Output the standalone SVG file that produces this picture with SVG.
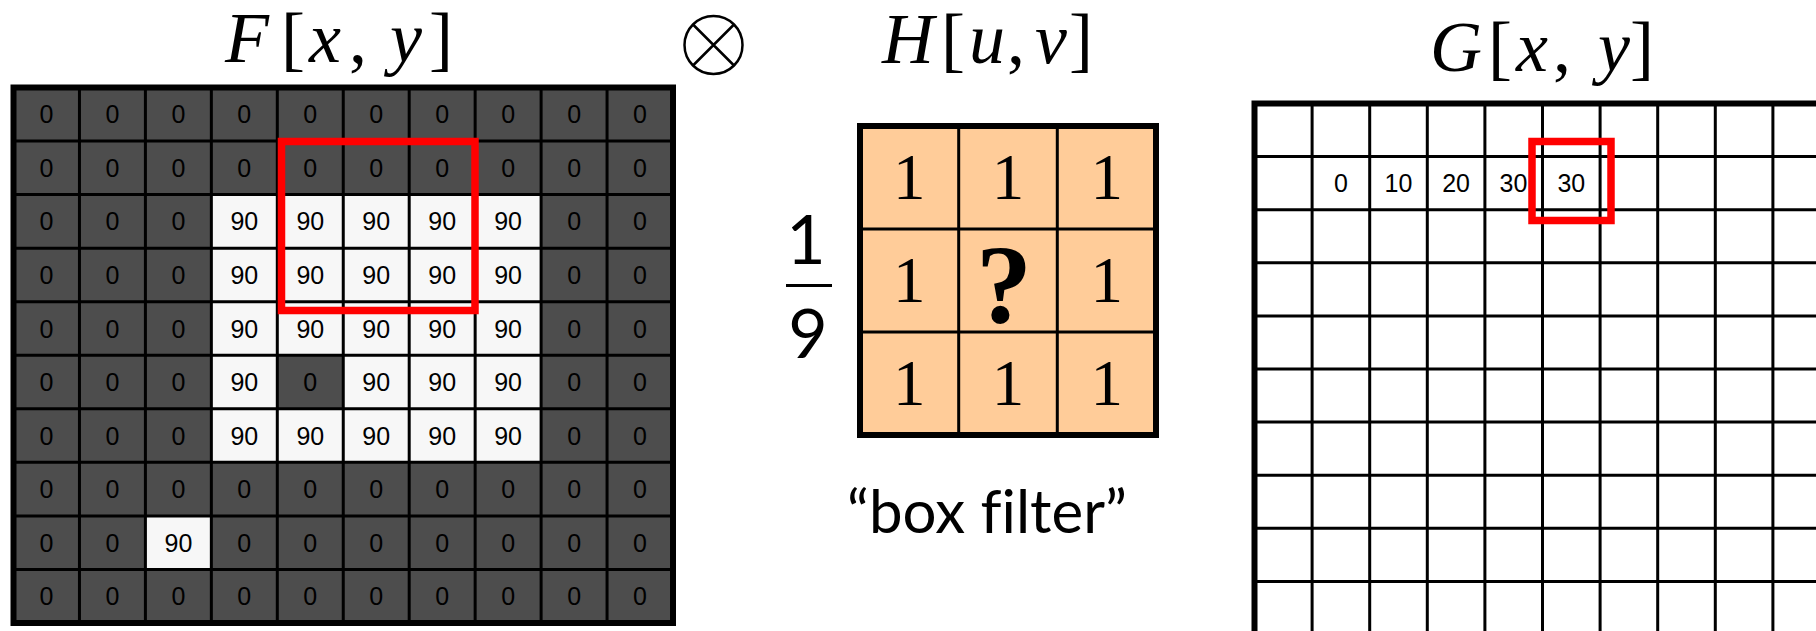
<svg xmlns="http://www.w3.org/2000/svg" width="1816" height="631" viewBox="0 0 1816 631">
<style>
.title{font-family:"Liberation Serif",serif;font-size:72px;fill:#000;text-anchor:middle}
.it{font-style:italic}
.cell{font-family:"Liberation Sans",Arial,sans-serif;font-size:25px;fill:#000;text-anchor:middle}
.grid{fill:none;stroke:#000;stroke-width:3}
.border{fill:none;stroke:#000;stroke-width:6}
.red{fill:none;stroke:#ff0000;stroke-width:7.5}
.one{font-family:"Liberation Serif",serif;font-size:65px;fill:#000;text-anchor:middle}
.sans{font-family:Lato,"Open Sans",sans-serif;fill:#000;text-anchor:middle;font-variant-ligatures:none}
</style>
<rect width="1816" height="631" fill="#fff"/>

<g id="title-F">
<text class="title" y="62"><tspan class="it" x="247">F</tspan><tspan x="293">[</tspan><tspan class="it" x="325">x</tspan><tspan x="358">,</tspan><tspan class="it" x="406">y</tspan><tspan x="441">]</tspan></text>
</g>
<g id="title-H">
<text class="title" y="63"><tspan class="it" x="908">H</tspan><tspan x="953">[</tspan><tspan class="it" x="987">u</tspan><tspan x="1016">,</tspan><tspan class="it" x="1051">v</tspan><tspan x="1081">]</tspan></text>
</g>
<g id="title-G">
<text class="title" y="71"><tspan class="it" x="1456">G</tspan><tspan x="1500">[</tspan><tspan class="it" x="1532">x</tspan><tspan x="1562">,</tspan><tspan class="it" x="1614">y</tspan><tspan x="1642">]</tspan></text>
</g>

<g id="otimes" fill="none" stroke="#000" stroke-width="2.5">
<circle cx="713.5" cy="45" r="29"/>
<path d="M693 24.5L734 65.5M734 24.5L693 65.5"/>
</g>

<g id="F-grid">
<rect x="13.5" y="87.5" width="659.5" height="535.5" fill="#4d4d4d"/>
<rect x="211.35" y="194.6" width="329.75" height="267.75" fill="#f7f7f7"/>
<rect x="277.3" y="355.25" width="65.95" height="53.55" fill="#4d4d4d"/>
<rect x="145.4" y="515.9" width="65.95" height="53.55" fill="#f7f7f7"/>
<path class="grid" d="M79.45 87.5V623M145.4 87.5V623M211.35 87.5V623M277.3 87.5V623M343.25 87.5V623M409.2 87.5V623M475.15 87.5V623M541.1 87.5V623M607.05 87.5V623M13.5 141.05H673M13.5 194.6H673M13.5 248.15H673M13.5 301.7H673M13.5 355.25H673M13.5 408.8H673M13.5 462.35H673M13.5 515.9H673M13.5 569.45H673"/>
<rect class="border" x="13.5" y="87.5" width="659.5" height="535.5"/>
<text class="cell" y="123.3"><tspan x="46.5">0</tspan><tspan x="112.4">0</tspan><tspan x="178.4">0</tspan><tspan x="244.3">0</tspan><tspan x="310.3">0</tspan><tspan x="376.2">0</tspan><tspan x="442.2">0</tspan><tspan x="508.1">0</tspan><tspan x="574.1">0</tspan><tspan x="640">0</tspan></text>
<text class="cell" y="176.8"><tspan x="46.5">0</tspan><tspan x="112.4">0</tspan><tspan x="178.4">0</tspan><tspan x="244.3">0</tspan><tspan x="310.3">0</tspan><tspan x="376.2">0</tspan><tspan x="442.2">0</tspan><tspan x="508.1">0</tspan><tspan x="574.1">0</tspan><tspan x="640">0</tspan></text>
<text class="cell" y="230.4"><tspan x="46.5">0</tspan><tspan x="112.4">0</tspan><tspan x="178.4">0</tspan><tspan x="244.3">90</tspan><tspan x="310.3">90</tspan><tspan x="376.2">90</tspan><tspan x="442.2">90</tspan><tspan x="508.1">90</tspan><tspan x="574.1">0</tspan><tspan x="640">0</tspan></text>
<text class="cell" y="283.9"><tspan x="46.5">0</tspan><tspan x="112.4">0</tspan><tspan x="178.4">0</tspan><tspan x="244.3">90</tspan><tspan x="310.3">90</tspan><tspan x="376.2">90</tspan><tspan x="442.2">90</tspan><tspan x="508.1">90</tspan><tspan x="574.1">0</tspan><tspan x="640">0</tspan></text>
<text class="cell" y="337.5"><tspan x="46.5">0</tspan><tspan x="112.4">0</tspan><tspan x="178.4">0</tspan><tspan x="244.3">90</tspan><tspan x="310.3">90</tspan><tspan x="376.2">90</tspan><tspan x="442.2">90</tspan><tspan x="508.1">90</tspan><tspan x="574.1">0</tspan><tspan x="640">0</tspan></text>
<text class="cell" y="391"><tspan x="46.5">0</tspan><tspan x="112.4">0</tspan><tspan x="178.4">0</tspan><tspan x="244.3">90</tspan><tspan x="310.3">0</tspan><tspan x="376.2">90</tspan><tspan x="442.2">90</tspan><tspan x="508.1">90</tspan><tspan x="574.1">0</tspan><tspan x="640">0</tspan></text>
<text class="cell" y="444.6"><tspan x="46.5">0</tspan><tspan x="112.4">0</tspan><tspan x="178.4">0</tspan><tspan x="244.3">90</tspan><tspan x="310.3">90</tspan><tspan x="376.2">90</tspan><tspan x="442.2">90</tspan><tspan x="508.1">90</tspan><tspan x="574.1">0</tspan><tspan x="640">0</tspan></text>
<text class="cell" y="498.1"><tspan x="46.5">0</tspan><tspan x="112.4">0</tspan><tspan x="178.4">0</tspan><tspan x="244.3">0</tspan><tspan x="310.3">0</tspan><tspan x="376.2">0</tspan><tspan x="442.2">0</tspan><tspan x="508.1">0</tspan><tspan x="574.1">0</tspan><tspan x="640">0</tspan></text>
<text class="cell" y="551.7"><tspan x="46.5">0</tspan><tspan x="112.4">0</tspan><tspan x="178.4">90</tspan><tspan x="244.3">0</tspan><tspan x="310.3">0</tspan><tspan x="376.2">0</tspan><tspan x="442.2">0</tspan><tspan x="508.1">0</tspan><tspan x="574.1">0</tspan><tspan x="640">0</tspan></text>
<text class="cell" y="605.2"><tspan x="46.5">0</tspan><tspan x="112.4">0</tspan><tspan x="178.4">0</tspan><tspan x="244.3">0</tspan><tspan x="310.3">0</tspan><tspan x="376.2">0</tspan><tspan x="442.2">0</tspan><tspan x="508.1">0</tspan><tspan x="574.1">0</tspan><tspan x="640">0</tspan></text>
<rect class="red" x="281.5" y="141.5" width="193.5" height="169"/>
</g>

<g id="fraction">
<text class="sans" x="806" y="264" font-size="68">1</text>
<path d="M786 285.5H832" stroke="#000" stroke-width="3"/>
<text class="sans" x="808" y="358" font-size="68">9</text>
</g>

<g id="H-kernel">
<rect x="860" y="126" width="296" height="309" fill="#ffcc99"/>
<path class="grid" d="M958.7 126V435M1057.3 126V435M860 229H1156M860 332H1156"/>
<rect class="border" x="860" y="126" width="296" height="309"/>
<text class="one" y="199"><tspan x="909.3">1</tspan><tspan x="1008">1</tspan><tspan x="1106.7">1</tspan></text>
<text class="one" y="302"><tspan x="909.3">1</tspan><tspan x="1106.7">1</tspan></text>
<text class="one" y="405"><tspan x="909.3">1</tspan><tspan x="1008">1</tspan><tspan x="1106.7">1</tspan></text>
<text x="1004" y="322" font-family="'Liberation Serif',serif" font-weight="bold" font-size="112" text-anchor="middle" fill="#000">?</text>
</g>

<g id="label-box-filter">
<text class="sans" x="987" y="533" font-size="60">“box filter”</text>
</g>

<g id="G-grid">
<rect x="1254.5" y="103.5" width="576" height="531" fill="#fff"/>
<path class="grid" d="M1312.1 103.5V631M1369.7 103.5V631M1427.3 103.5V631M1484.9 103.5V631M1542.5 103.5V631M1600.1 103.5V631M1657.7 103.5V631M1715.3 103.5V631M1772.9 103.5V631M1254.5 156.6H1816M1254.5 209.7H1816M1254.5 262.8H1816M1254.5 315.9H1816M1254.5 369H1816M1254.5 422.1H1816M1254.5 475.2H1816M1254.5 528.3H1816M1254.5 581.4H1816"/>
<rect class="border" x="1254.5" y="103.5" width="576" height="531"/>
<text class="cell" y="192.2"><tspan x="1340.9">0</tspan><tspan x="1398.5">10</tspan><tspan x="1456.1">20</tspan><tspan x="1513.5">30</tspan><tspan x="1571.3">30</tspan></text>
<rect class="red" x="1532" y="141.5" width="79" height="79"/>
</g>
</svg>
